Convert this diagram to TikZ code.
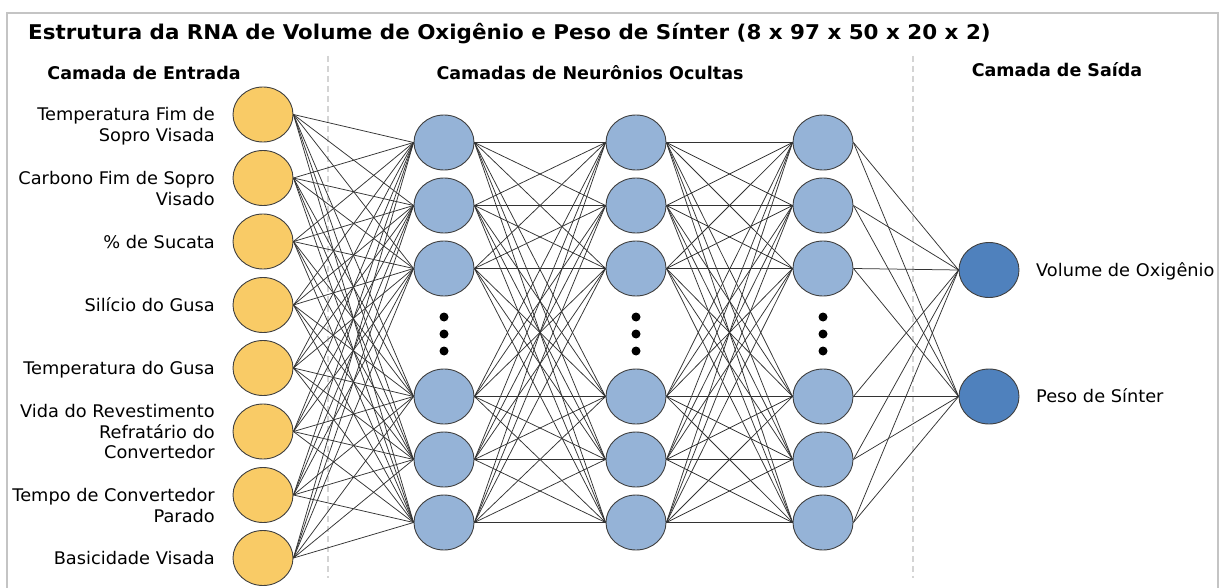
\documentclass[tikz,border=0pt]{standalone}
\usepackage{fontspec}
\setmainfont{DejaVu Sans}
\newfontfamily\lblfont[FakeStretch=1.021]{DejaVu Sans}
\newfontfamily\ttlfont[FakeStretch=1.056]{DejaVu Sans}
\usetikzlibrary{shapes.geometric}
\definecolor{inyellow}{HTML}{F9CB66}
\definecolor{hidblue}{HTML}{95B3D7}
\definecolor{outblue}{HTML}{4F81BD}
\definecolor{framegray}{HTML}{C4C4C4}
\definecolor{sepgray}{HTML}{D4D4D4}
\begin{document}
\begin{tikzpicture}[x=1pt,y=-1pt,
  neuron/.style={ellipse, draw=black!75, line width=0.9pt, minimum width=60pt, minimum height=55pt, inner sep=0pt},
  innode/.style={neuron, fill=inyellow},
  hidnode/.style={neuron, fill=hidblue},
  outnode/.style={neuron, fill=outblue},
  link/.style={draw=black!80, line width=0.75pt},
  lbl/.style={font=\lblfont\fontsize{17.4}{20.7}\selectfont, inner sep=0pt},
  head/.style={font=\bfseries\fontsize{17.5}{21}\selectfont, inner sep=0pt},
  sepline/.style={draw=sepgray, line width=1.3pt, dash pattern=on 6pt off 4pt},
  dotmark/.style={circle, fill=black, minimum size=9pt, inner sep=0pt},
]
\useasboundingbox (0,0) rectangle (1225,588);
\clip (0,0) rectangle (1225,588);
\fill[white] (0,0) rectangle (1225,588);

% outer frame (open at the bottom edge of the page)
\draw[draw=framegray, line width=2pt] (7,12.7) rectangle (1218,640);

% title and column headings
\node[anchor=base west, inner sep=0pt, font=\ttlfont\bfseries\fontsize{20.3}{24}\selectfont] (title) at (28,39.8)
  {Estrutura da RNA de Volume de Oxigênio e Peso de Sínter (8 x 97 x 50 x 20 x 2)};
\node[head, anchor=base] (hin) at (144,80) {Camada de Entrada};
\node[head, anchor=base] (hhid) at (590,80) {Camadas de Neurônios Ocultas};
\node[head, anchor=base] (hout) at (1057,77) {Camada de Saída};

% column separators
\draw[sepline] (328,56) -- (328,578);
\draw[sepline] (913,56) -- (913,578);

% input layer
\foreach \y [count=\i] in {114.5,178,241.5,305,368,431.5,495,558}
  \node[innode] (i\i) at (263,\y) {};

% hidden layers
\foreach \y [count=\i] in {142.5,205.5,268.5,396.5,459.5,522.5} {
  \node[hidnode] (a\i) at (444,\y) {};
  \node[hidnode] (b\i) at (636,\y) {};
  \node[hidnode] (c\i) at (823,\y) {};
}

% output layer
\node[outnode] (o1) at (989,270) {};
\node[outnode] (o2) at (989,396.5) {};

% ellipsis dots in the hidden layers
\foreach \x/\n in {444/a,636/b,823/c}
  \foreach \y [count=\k] in {317,334,351}
    \node[dotmark] (dot\n\k) at (\x,\y) {};

% connections
\foreach \s in {1,...,8}
  \foreach \t in {1,...,6}
    \draw[link] (i\s.east) -- (a\t.west);
\foreach \s in {1,...,6}
  \foreach \t in {1,...,6} {
    \draw[link] (a\s.east) -- (b\t.west);
    \draw[link] (b\s.east) -- (c\t.west);
  }
\foreach \s in {1,...,6}
  \foreach \t in {1,2}
    \draw[link] (c\s.east) -- (o\t.west);

% input labels
\node[lbl, anchor=base east] (l1) at (215,121) {\begin{tabular}[t]{@{}r@{}}Temperatura Fim de\\Sopro Visada\end{tabular}};
\node[lbl, anchor=base east] (l2) at (215,185) {\begin{tabular}[t]{@{}r@{}}Carbono Fim de Sopro\\Visado\end{tabular}};
\node[lbl, anchor=base east] (l3) at (215,248) {\% de Sucata};
\node[lbl, anchor=base east] (l4) at (215,311.5) {Silício do Gusa};
\node[lbl, anchor=base east] (l5) at (215,374.5) {Temperatura do Gusa};
\node[lbl, anchor=base east] (l6) at (215,417.5) {\begin{tabular}[t]{@{}r@{}}Vida do Revestimento\\Refratário do\\Convertedor\end{tabular}};
\node[lbl, anchor=base east] (l7) at (215,501.5) {\begin{tabular}[t]{@{}r@{}}Tempo de Convertedor\\Parado\end{tabular}};
\node[lbl, anchor=base east] (l8) at (215,564.5) {Basicidade Visada};

% output labels
\node[lbl, anchor=base west] (r1) at (1036,276) {Volume de Oxigênio};
\node[lbl, anchor=base west] (r2) at (1036,402.5) {Peso de Sínter};
\end{tikzpicture}
\end{document}
